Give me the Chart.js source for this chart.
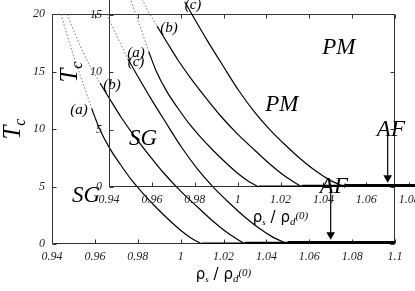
<!DOCTYPE html>
<html><head><meta charset="utf-8">
<script src="https://cdn.jsdelivr.net/npm/chart.js@4.4.1/dist/chart.umd.min.js"></script>
<style>
html,body{margin:0;padding:0;background:#fff;width:415px;height:291px;overflow:hidden;position:relative}
canvas{position:absolute}
#main{left:0;top:0}
#inset{left:57px;top:-57px}
</style></head><body>
<canvas id="main" width="415" height="291"></canvas>
<canvas id="inset" width="415" height="291"></canvas>
<script>
// ---- data ----
const xTickValues = [0.94, 0.96, 0.98, 1.0, 1.02, 1.04, 1.06, 1.08, 1.1];
const yTickValues = [0, 5, 10, 15, 20];

const rhoSolidA = [0.9585, 0.962, 0.967, 0.972, 0.977, 0.982, 0.9885, 0.994, 1.0, 1.005, 1.01];
const tcSolidA  = [11.8, 10.1, 8.3, 6.9, 5.6, 4.5, 3.2, 2.2, 1.2, 0.5, 0];
const rhoDotA   = [0.9442, 0.947, 0.950, 0.9535, 0.9585];
const tcDotA    = [20, 18.2, 16.4, 14.5, 11.8];

const rhoSolidB = [0.9624, 0.967, 0.972, 0.978, 0.985, 0.992, 1.0, 1.008, 1.015, 1.022, 1.03];
const tcSolidB  = [14.0, 12.6, 11.1, 9.5, 7.8, 6.2, 4.6, 3.2, 2.0, 0.95, 0];
const rhoDotB   = [0.947, 0.9505, 0.954, 0.958, 0.9624];
const tcDotB    = [20, 18.4, 16.9, 15.4, 14.0];

const rhoSolidC = [0.9754, 0.98, 0.986, 0.993, 1.0005, 1.008, 1.015, 1.022, 1.029, 1.036, 1.043, 1.05];
const tcSolidC  = [16.1, 14.6, 12.7, 10.6, 8.4, 6.5, 5.0, 3.7, 2.5, 1.45, 0.6, 0];
const rhoDotC   = [0.9655, 0.968, 0.971, 0.9754];
const tcDotC    = [20, 19.0, 17.8, 16.1];

const afStartRho = [1.01, 1.03, 1.05];
const afEndRho = 1.1;

const arrowRho = [1.07, 1.07];
const arrowTc  = [4.7, 0.8];

const labelTexts = ['(a)', '(b)', '(c)', 'SG', 'PM', 'AF'];
const labelRho   = [0.9526, 0.968, 0.9792, 0.9559, 1.0472, 1.0715];
const labelTc    = [11.7, 13.8, 15.8, 4.2, 12.1, 5.0];
const labelBig   = [false, false, false, true, true, true];

// ---- helpers ----
const pts = (xs, ys) => xs.map((x, i) => ({x: x, y: ys[i]}));
const SERIF = '"Liberation Serif", "Times New Roman", serif';

const deco = {
  id: 'deco',
  beforeDatasetsDraw(chart) {
    const ctx = chart.ctx, a = chart.chartArea;
    const xs = chart.scales.x, ys = chart.scales.y;
    ctx.save();
    ctx.strokeStyle = '#333';
    ctx.lineWidth = 1;
    const L = Math.round(a.left) + 0.5, R = Math.round(a.right) - 0.5;
    const T = Math.round(a.top) + 0.5, B = Math.round(a.bottom) - 0.5;
    ctx.beginPath();
    ctx.rect(L, T, R - L, B - T);
    ctx.stroke();
    ctx.beginPath();
    xTickValues.forEach(v => {
      const p = Math.round(xs.getPixelForValue(v)) + 0.5;
      ctx.moveTo(p, B); ctx.lineTo(p, B - 4);
      ctx.moveTo(p, T); ctx.lineTo(p, T + 4);
    });
    yTickValues.forEach(v => {
      const p = Math.round(ys.getPixelForValue(v)) + 0.5;
      ctx.moveTo(L, p); ctx.lineTo(L + 4, p);
      ctx.moveTo(R, p); ctx.lineTo(R - 4, p);
    });
    ctx.stroke();
    ctx.restore();
  },
  afterDatasetsDraw(chart) {
    const ctx = chart.ctx, a = chart.chartArea;
    const xs = chart.scales.x, ys = chart.scales.y;
    ctx.save();
    ctx.fillStyle = '#000';
    ctx.textAlign = 'center';
    ctx.textBaseline = 'middle';
    labelTexts.forEach((t, i) => {
      ctx.font = 'italic ' + (labelBig[i] ? 23 : 15) + 'px ' + SERIF;
      ctx.fillText(t, xs.getPixelForValue(labelRho[i]), ys.getPixelForValue(labelTc[i]));
    });
    // y title T_c (rotated)
    ctx.save();
    ctx.translate(a.left - 40, (a.top + a.bottom) / 2);
    ctx.rotate(-Math.PI / 2);
    ctx.textAlign = 'left';
    ctx.textBaseline = 'alphabetic';
    ctx.font = 'italic 25px ' + SERIF;
    const wT = ctx.measureText('T').width;
    ctx.font = 'italic 16px ' + SERIF;
    const wc = ctx.measureText('c').width;
    const sx = -(wT + wc) / 2;
    ctx.font = 'italic 25px ' + SERIF;
    ctx.fillText('T', sx, 8);
    ctx.font = 'italic 16px ' + SERIF;
    ctx.fillText('c', sx + wT, 13);
    ctx.restore();
    // x title rho_s / rho_d(0)
    const parts = [
      {t: 'ρ', f: '15px "DejaVu Sans", sans-serif', dy: 0},
      {t: 's', f: 'italic 9px ' + SERIF, dy: 3},
      {t: ' / ', f: '15px "DejaVu Sans", sans-serif', dy: 0},
      {t: 'ρ', f: '15px "DejaVu Sans", sans-serif', dy: 0},
      {t: 'd', f: 'italic 11px ' + SERIF, dy: 3},
      {t: '(0)', f: 'italic 11px ' + SERIF, dy: -3}
    ];
    ctx.textAlign = 'left';
    ctx.textBaseline = 'alphabetic';
    let total = 0;
    parts.forEach(p => { ctx.font = p.f; p.w = ctx.measureText(p.t).width; total += p.w; });
    let x = (a.left + a.right) / 2 - total / 2;
    const base = a.bottom + 35;
    parts.forEach(p => { ctx.font = p.f; ctx.fillText(p.t, x, base + p.dy); x += p.w; });
    ctx.restore();
  }
};

function makeConfig() {
  const solid = (xs, ys) => ({data: pts(xs, ys), borderColor: '#000', borderWidth: 1.2,
    pointRadius: 0, fill: false, cubicInterpolationMode: 'monotone'});
  const dotted = (xs, ys) => ({data: pts(xs, ys), borderColor: '#777', borderWidth: 1,
    borderDash: [1.5, 2], pointRadius: 0, fill: false, cubicInterpolationMode: 'monotone'});
  const afWidths = [3, 4.5, 6];
  const datasets = [
    dotted(rhoDotA, tcDotA), dotted(rhoDotB, tcDotB), dotted(rhoDotC, tcDotC),
    solid(rhoSolidA, tcSolidA), solid(rhoSolidB, tcSolidB), solid(rhoSolidC, tcSolidC)
  ];
  afStartRho.forEach((s, i) => datasets.push({
    data: [{x: s, y: 0}, {x: afEndRho, y: 0}], borderColor: '#000',
    borderWidth: afWidths[i], pointRadius: 0, fill: false, borderCapStyle: 'butt'
  }));
  datasets.push({
    data: pts(arrowRho, arrowTc), borderColor: '#000', borderWidth: 1.2,
    backgroundColor: '#000', pointBorderWidth: 0, pointRadius: [0, 5],
    pointStyle: 'triangle', rotation: 180, fill: false
  });
  const tickFont = {family: SERIF, style: 'italic', size: 12};
  return {
    type: 'line',
    data: {datasets: datasets},
    options: {
      responsive: false, animation: false, devicePixelRatio: 1,
      events: [],
      layout: {padding: {left: 0, right: 20, top: 14, bottom: 0}, autoPadding: false},
      plugins: {legend: {display: false}, tooltip: {enabled: false}, title: {display: false}},
      scales: {
        x: {
          type: 'linear', min: 0.94, max: 1.1,
          grid: {display: false, drawTicks: false}, border: {display: false},
          afterBuildTicks: s => { s.ticks = xTickValues.map(v => ({value: v})); },
          afterFit: s => { s.height = 47; },
          ticks: {font: tickFont, color: '#222', padding: 6, maxRotation: 0, autoSkip: false,
            callback: v => String(+(+v).toFixed(2))}
        },
        y: {
          type: 'linear', min: 0, max: 20,
          grid: {display: false, drawTicks: false}, border: {display: false},
          afterBuildTicks: s => { s.ticks = yTickValues.map(v => ({value: v})); },
          afterFit: s => { s.width = 52; },
          ticks: {font: tickFont, color: '#222', padding: 7, autoSkip: false,
            callback: v => String(v)}
        }
      }
    },
    plugins: [deco]
  };
}

new Chart(document.getElementById('main'), makeConfig());
new Chart(document.getElementById('inset'), makeConfig());
</script>
</body></html>
